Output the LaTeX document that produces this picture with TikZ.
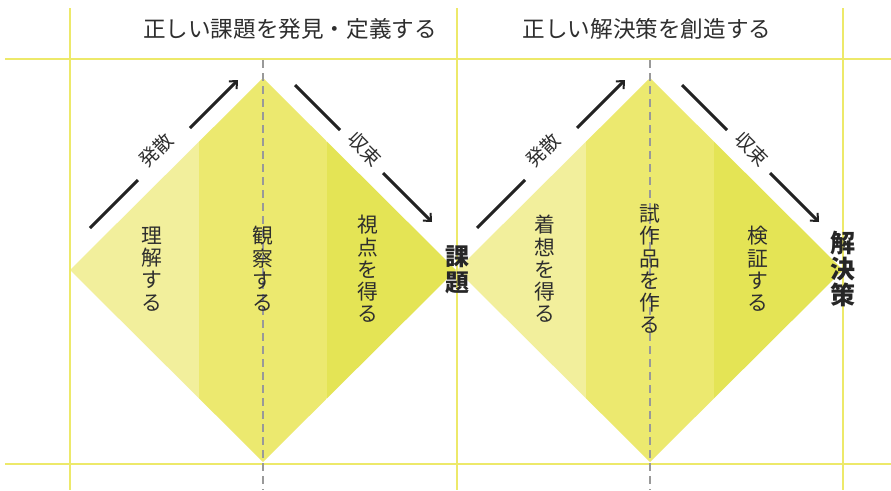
\documentclass[tikz,border=0pt]{standalone}
\usepackage{fontspec}
\newfontfamily\jp{Noto Sans CJK JP}
\usetikzlibrary{arrows.meta}
\definecolor{gridy}{HTML}{EDE96A}
\definecolor{bandA}{HTML}{F2EF9C}
\definecolor{bandB}{HTML}{ECE96F}
\definecolor{bandC}{HTML}{E4E455}
\definecolor{ink}{HTML}{2E2E2E}
\definecolor{dashg}{HTML}{999999}
\definecolor{flowc}{HTML}{222222}
\begin{document}
\begin{tikzpicture}[x=1pt,y=-1pt,
  gridline/.style={gridy,line width=2.5pt},
  axisdash/.style={dashg,line width=2pt,dash pattern=on 8pt off 5pt},
  flow/.style={line width=3pt,draw=flowc},
  flowtip/.style={flow,-{Straight Barb[length=6pt,width=11pt,line width=2pt]}},
  title/.style={font=\jp\fontsize{22.6}{25}\selectfont,text=ink,inner sep=0pt},
  vlabel/.style={font=\jp\fontsize{20.8}{22.2}\selectfont,text=ink,align=center,inner sep=0pt},
  arlabel/.style={font=\jp\fontsize{19}{20}\selectfont,text=ink,inner sep=0pt},
  endlabel/.style={font=\jp\bfseries\fontsize{24}{25.5}\selectfont,text=black!85,align=center,inner sep=0pt}
]
\fill[white] (0,0) rectangle (891,490);
\useasboundingbox (0,0) rectangle (891,490);

% diamonds with three bands
\foreach \cx in {263,650}{
  \begin{scope}
    \clip (\cx-193,270) -- (\cx,78) -- (\cx+193,270) -- (\cx,462) -- cycle;
    \fill[bandA] (\cx-194,70) rectangle (\cx-64.3,470);
    \fill[bandB] (\cx-64.3,70) rectangle (\cx+64.3,470);
    \fill[bandC] (\cx+64.3,70) rectangle (\cx+194,470);
  \end{scope}
}

% grid
\coordinate (hTl) at (5,59);   \coordinate (hTr) at (891,59);
\coordinate (hBl) at (5,464);  \coordinate (hBr) at (891,464);
\coordinate (v1t) at (70,8);   \coordinate (v1b) at (70,490);
\coordinate (v2t) at (457,8);  \coordinate (v2b) at (457,490);
\coordinate (v3t) at (843,8);  \coordinate (v3b) at (843,490);
\draw[gridline] (hTl) -- (hTr);
\draw[gridline] (hBl) -- (hBr);
\draw[gridline] (v1t) -- (v1b);
\draw[gridline] (v2t) -- (v2b);
\draw[gridline] (v3t) -- (v3b);

% axes
\coordinate (ax1t) at (263,60); \coordinate (ax1b) at (263,490);
\coordinate (ax2t) at (650,60); \coordinate (ax2b) at (650,490);
\draw[axisdash] (ax1t) -- (ax1b);
\draw[axisdash] (ax2t) -- (ax2b);

% titles
\node[title] (t1) at (290,29) {正しい課題を発見・定義する};
\node[title] (t2) at (647,29) {正しい解決策を創造する};

% divergence / convergence arrows
\foreach \o/\n in {0/1,387/2}{
  \coordinate (ds\n a) at (90+\o,228);
  \coordinate (ds\n b) at (138+\o,180);
  \coordinate (ds\n c) at (190+\o,128);
  \coordinate (ds\n d) at (238+\o,80);
  \draw[flow] (ds\n a) -- (ds\n b);
  \draw[flowtip] (ds\n c) -- (ds\n d);
  \node[arlabel,rotate=45] (dl\n) at (156+\o,150) {発散};
  \coordinate (cv\n a) at (295+\o,85);
  \coordinate (cv\n b) at (340+\o,130);
  \coordinate (cv\n c) at (383+\o,173);
  \coordinate (cv\n d) at (432+\o,222);
  \draw[flow] (cv\n a) -- (cv\n b);
  \draw[flowtip] (cv\n c) -- (cv\n d);
  \node[arlabel,rotate=-45] (cl\n) at (365+\o,149) {収束};
}

% band labels
\node[vlabel] (l1) at (152,269) {理\\解\\す\\る};
\node[vlabel] (l2) at (263,269) {観\\察\\す\\る};
\node[vlabel] (l3) at (368,269) {視\\点\\を\\得\\る};
\node[vlabel] (l4) at (545,269) {着\\想\\を\\得\\る};
\node[vlabel] (l5) at (650,269) {試\\作\\品\\を\\作\\る};
\node[vlabel] (l6) at (758,269) {検\\証\\す\\る};

% end labels
\node[endlabel] (e1) at (457,270) {課\\題};
\node[endlabel,font=\jp\bfseries\fontsize{25}{26}\selectfont] (e2) at (843,269) {解\\決\\策};
\end{tikzpicture}
\end{document}
